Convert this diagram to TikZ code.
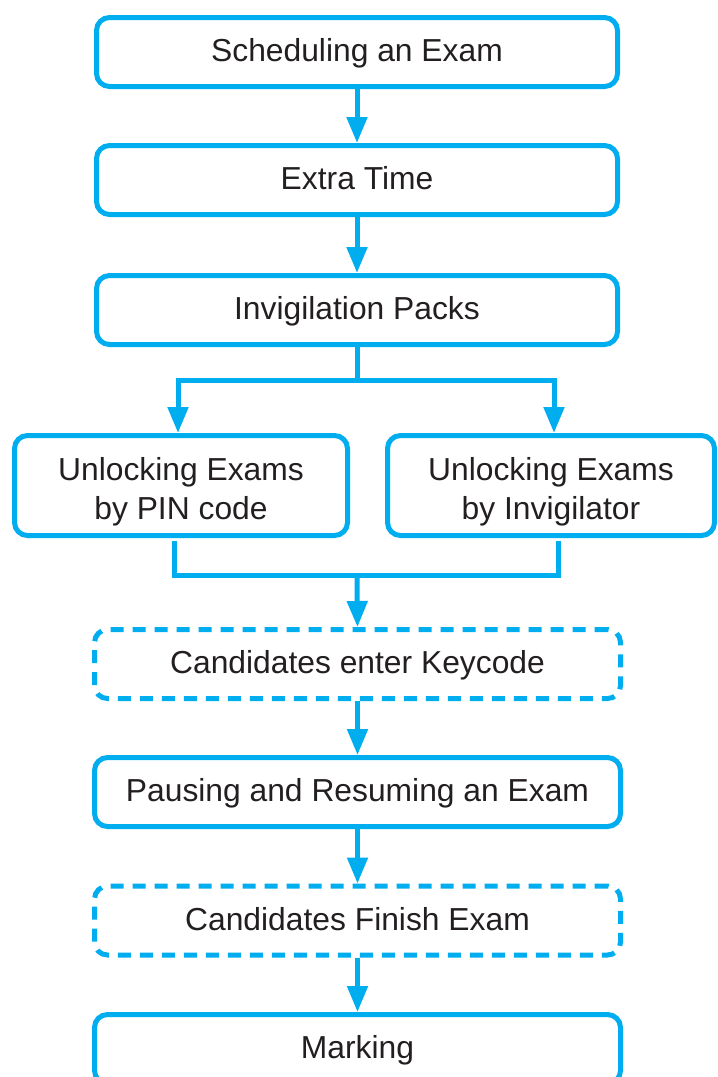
\documentclass[tikz,border=0pt]{standalone}
\usepackage{fontspec}
\setmainfont{Liberation Sans}
\usetikzlibrary{arrows.meta}
\definecolor{flowblue}{HTML}{00AEEF}
\definecolor{inkgray}{HTML}{231F20}
\newcommand{\tallrow}{\rule{0pt}{35pt}}
\tikzset{
  stepbox/.style={draw=flowblue, line width=5pt, rounded corners=13pt,
    text=inkgray, font=\fontsize{31.8}{39}\selectfont, inner sep=0pt,
    align=center},
  onerow/.style={text height=23pt, text depth=4pt},
  wide/.style={minimum width=521pt, minimum height=69pt},
  wider/.style={minimum width=526pt, minimum height=69pt},
  optional/.style={dash pattern=on 13pt off 9pt},
  link/.style={draw=flowblue, line width=5pt},
  arr/.style={link, -{Triangle[length=26pt,width=20pt]}}
}
\begin{document}
\begin{tikzpicture}[x=1pt,y=1pt]
\useasboundingbox (0,0) rectangle (718,-1077);

\node[stepbox, onerow, wide] (b1) at (357,-52) {Scheduling an Exam};
\node[stepbox, onerow, wide] (b2) at (357,-180) {Extra Time};
\node[stepbox, onerow, wide] (b3) at (357,-310) {Invigilation Packs};
\node[stepbox, minimum width=333pt, minimum height=100pt] (b4a) at (181,-485.5)
  {\tallrow Unlocking Exams\\by PIN code};
\node[stepbox, minimum width=327pt, minimum height=100pt] (b4b) at (551,-485.5)
  {\tallrow Unlocking Exams\\by Invigilator};
\node[stepbox, onerow, wider, optional] (b5) at (357.5,-664) {Candidates enter Keycode};
\node[stepbox, onerow, wider] (b6) at (357.5,-792) {Pausing and Resuming an Exam};
\node[stepbox, onerow, wider, optional] (b7) at (357.5,-920.5) {Candidates Finish Exam};
\node[stepbox, onerow, wider] (b8) at (357.5,-1049) {Marking};

\coordinate (split) at (357,-380);
\coordinate (merge) at (357,-575.5);

\draw[arr] (b1.south) -- (b2.north);
\draw[arr] (b2.south) -- (b3.north);
\draw[link] (b3.south) -- (split);
\draw[arr] (split) -| ([xshift=-3pt]b4a.north);
\draw[arr] (split) -| ([xshift=3pt]b4b.north);
\draw[link] ([xshift=-6.5pt,yshift=-3pt]b4a.south) |- (merge)
  -| ([xshift=7pt,yshift=-3pt]b4b.south);
\draw[arr] (merge) -- (b5.north);
\draw[arr] (b5.south) -- (b6.north);
\draw[arr] (b6.south) -- (b7.north);
\draw[arr] (b7.south) -- (b8.north);
\end{tikzpicture}
\end{document}
